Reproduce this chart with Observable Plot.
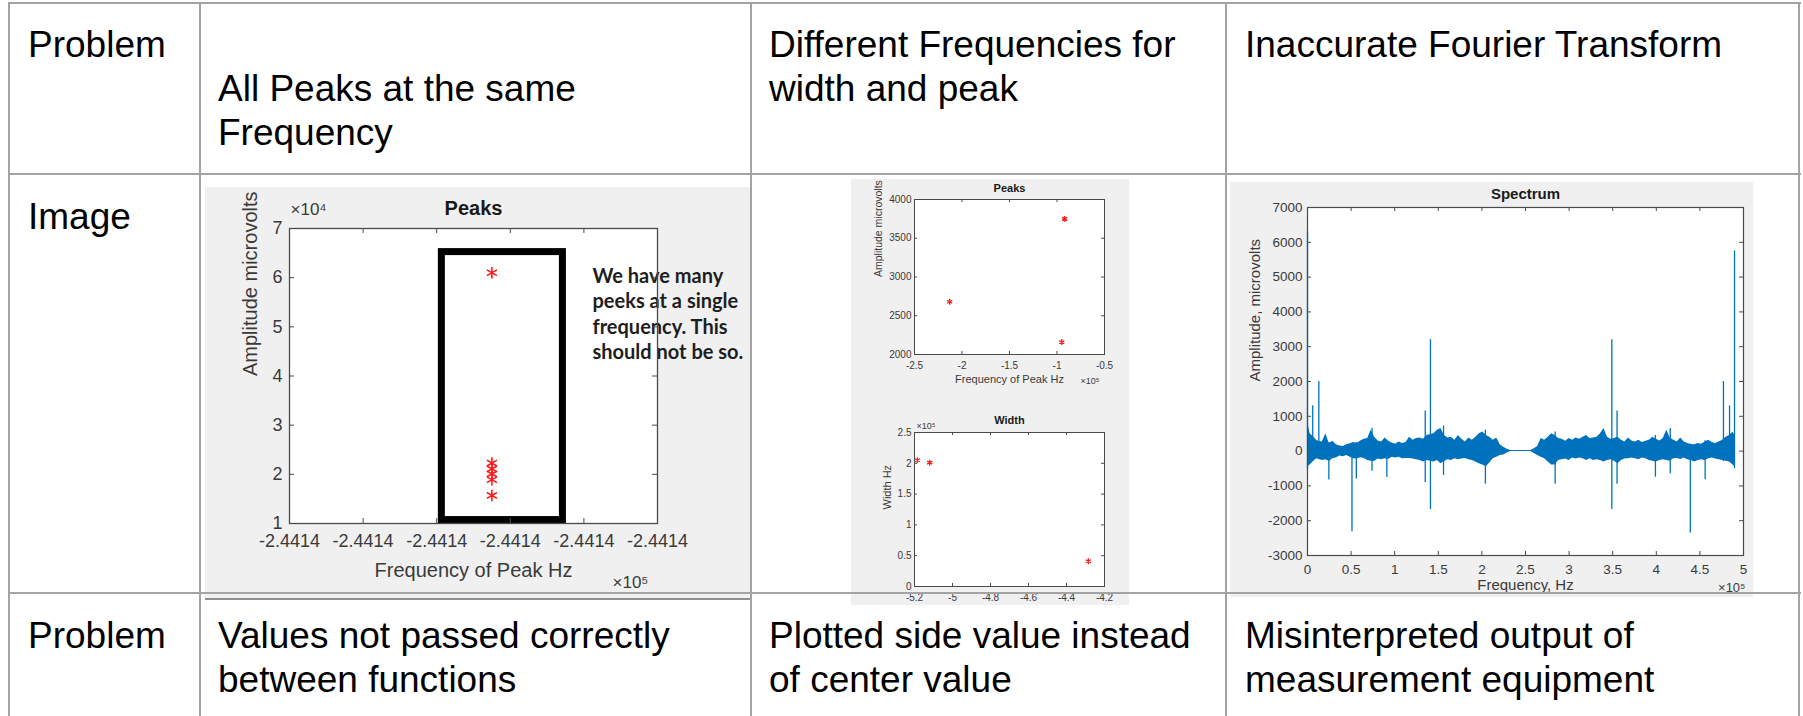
<!DOCTYPE html>
<html>
<head>
<meta charset="utf-8">
<script src="https://cdn.jsdelivr.net/npm/d3@7"></script>
<script src="https://cdn.jsdelivr.net/npm/@observablehq/plot@0.6"></script>
<style>
  html, body { margin: 0; padding: 0; background: #fff; }
  #page { position: relative; width: 1803px; height: 716px; overflow: hidden;
          font-family: "Liberation Sans", Arial, Helvetica, sans-serif; }
  .cell { position: absolute; font-size: 37px; line-height: 44px; color: #000; white-space: pre; }
  .rule { position: absolute; background: #a3a3a3; }
  .fig { position: absolute; background: #f0f0f0; }
  #page svg { position: absolute; display: block; }
</style>
</head>
<body>
<div id="page"></div>
<script>
// ---------------- table text ----------------
const rowLabels = ["Problem", "Image", "Problem"];
const problemTitles = [
  ["", "All Peaks at the same", "Frequency"],
  ["Different Frequencies for", "width and peak"],
  ["Inaccurate Fourier Transform"]
];
const causes = [
  ["Values not passed correctly", "between functions"],
  ["Plotted side value instead", "of center value"],
  ["Misinterpreted output of", "measurement equipment"]
];

// ---------------- "Peaks" (all at one frequency) ----------------
const peakFreqA = [-244140.45, -244140.45, -244140.45, -244140.45, -244140.45, -244140.45];
const peakAmpA = [61000, 22300, 21100, 20100, 18900, 15700];
const freqTicksA = [-244141.0, -244140.8, -244140.6, -244140.4, -244140.2, -244140.0];
const ampTicksA = [10000, 20000, 30000, 40000, 50000, 60000, 70000];
const boxFreqA = [-244140.586, -244140.257];
const boxAmpA = [10700, 65200];
const noteA = "We have many\npeeks at a single\nfrequency. This\nshould not be so.";

// ---------------- "Peaks" / "Width" (mismatched frequencies) ----------------
const peakFreqB = [-213000, -95000, -92000];
const peakAmpB = [2680, 2160, 3750];
const freqTicksB = [-250000, -200000, -150000, -100000, -50000];
const ampTicksB = [2000, 2500, 3000, 3500, 4000];
const widthFreqB = [-518500, -512000, -428500];
const widthB = [205000, 201000, 41000];
const widthFreqTicksB = [-520000, -500000, -480000, -460000, -440000, -420000];
const widthTicksB = [0, 50000, 100000, 150000, 200000, 250000];

// ---------------- "Spectrum" ----------------
// noise band: frequency (x10^5 Hz), upper and lower envelope (microvolts)
const bandFreq = [0.005,0.03,0.08,0.11,0.17,0.21,0.25,0.29,0.33,0.37,0.41,0.45,0.49,0.53,0.57,0.61,0.65,0.69,0.73,0.77,0.81,0.85,0.89,0.93,0.97,1.01,1.05,1.09,1.13,1.17,1.21,1.25,1.29,1.33,1.37,1.45,1.49,1.53,1.57,1.61,1.65,1.69,1.73,1.77,1.81,1.85,1.89,1.93,1.97,2.01,2.05,2.09,2.13,2.17,2.21,2.25,2.29,2.33,2.56,2.60,2.64,2.68,2.72,2.76,2.80,2.84,2.88,2.92,2.96,3.00,3.04,3.08,3.12,3.16,3.20,3.24,3.28,3.32,3.36,3.40,3.44,3.48,3.52,3.56,3.60,3.64,3.68,3.72,3.76,3.80,3.84,3.88,3.92,3.96,4.00,4.04,4.08,4.12,4.16,4.20,4.24,4.28,4.32,4.36,4.40,4.44,4.48,4.52,4.56,4.60,4.64,4.68,4.72,4.76,4.80,4.84,4.88,4.90];
const bandHi = [800,500,380,300,260,500,220,280,180,150,130,180,210,250,220,290,340,360,600,400,290,260,380,280,230,200,260,220,250,400,310,360,380,340,450,500,600,650,450,380,400,310,450,340,260,380,310,400,500,550,450,400,310,380,180,110,55,15,15,70,130,360,310,400,500,450,360,340,280,360,310,380,340,400,450,360,380,400,500,650,400,340,360,400,310,260,380,290,260,310,250,280,310,400,340,290,360,600,380,310,260,380,260,220,190,180,220,200,260,310,250,220,260,310,400,450,550,450];
const bandLo = [-450,-400,-270,-220,-270,-250,-300,-220,-200,-140,-160,-130,-180,-220,-230,-190,-210,-270,-290,-300,-230,-250,-220,-240,-180,-200,-180,-220,-210,-210,-230,-250,-270,-310,-270,-310,-270,-360,-300,-250,-270,-220,-250,-230,-210,-250,-270,-310,-360,-400,-450,-340,-220,-180,-130,-110,-55,-15,-15,-70,-130,-180,-220,-310,-400,-400,-270,-250,-230,-270,-200,-230,-200,-220,-270,-220,-270,-250,-270,-310,-270,-250,-290,-360,-270,-230,-220,-200,-220,-250,-200,-220,-270,-290,-310,-270,-250,-270,-290,-220,-210,-240,-200,-250,-270,-310,-270,-250,-270,-220,-200,-230,-250,-270,-290,-310,-400,-450];
// isolated spikes: frequency (x10^5 Hz), lowest and highest excursion (microvolts)
const spikeFreq = [0.0, 0.06, 0.13, 0.245, 0.51, 0.56, 0.74, 0.91, 1.35, 1.41, 1.56, 2.04, 2.84, 3.49, 3.55, 3.99, 4.16, 4.39, 4.56, 4.77, 4.84, 4.897];
const spikeLo = [-550, -300, -250, -830, -2320, -800, -580, -760, -900, -1680, -700, -950, -950, -1680, -950, -750, -650, -2350, -820, -300, -300, -500];
const spikeHi = [6300, 1300, 2000, 250, 200, 250, 650, 300, 1150, 3200, 720, 600, 550, 3200, 1150, 450, 650, 200, 300, 2000, 1300, 5750];
const specFreqTicks = [0, 50000, 100000, 150000, 200000, 250000, 300000, 350000, 400000, 450000, 500000];
const specAmpTicks = [-3000, -2000, -1000, 0, 1000, 2000, 3000, 4000, 5000, 6000, 7000];

// ---------------- shared styling ----------------
const FONT = '"Liberation Sans", Arial, Helvetica, sans-serif';
const TXT = "#3a3a3a";
const LINE = "#4a4a4a";
const RED = "#ff1a1a";
const BLUE = "#0072BD";
const page = document.getElementById("page");

function box(cls, left, top, width, height, extra) {
  const d = document.createElement("div");
  d.className = cls;
  Object.assign(d.style, {left: left + "px", top: top + "px", width: width + "px", height: height + "px"}, extra || {});
  page.appendChild(d);
  return d;
}

function place(svg, left, top) {
  svg.style.left = left + "px";
  svg.style.top = top + "px";
  page.appendChild(svg);
}

// MATLAB-style ticks drawn inward on all four sides of the axes box
function innerTicks(xTicks, yTicks, iw, ih, len) {
  return [
    Plot.ruleX(xTicks, {x: d => d, insetTop: ih - len, stroke: LINE}),
    Plot.ruleX(xTicks, {x: d => d, insetBottom: ih - len, stroke: LINE}),
    Plot.ruleY(yTicks, {y: d => d, insetRight: iw - len, stroke: LINE}),
    Plot.ruleY(yTicks, {y: d => d, insetLeft: iw - len, stroke: LINE})
  ];
}

const fmt = k => d => String(+(d / k).toFixed(4));
const plain = d => String(d);

// ---------------- figure backgrounds ----------------
box("fig", 205, 187, 545, 411, {borderBottom: "2px solid #8e8e8e"});
box("fig", 851, 179, 278, 426);
box("fig", 1230, 182, 523, 415);

// ---------------- Peaks: all at the same frequency ----------------
{
  const W = 545, H = 413, m = {top: 41, right: 93, bottom: 77, left: 84};
  const iw = W - m.left - m.right, ih = H - m.top - m.bottom;
  const pts = peakAmpA.map((a, i) => ({f: peakFreqA[i], a}));
  const svg = Plot.plot({
    width: W, height: H,
    marginTop: m.top, marginRight: m.right, marginBottom: m.bottom, marginLeft: m.left,
    style: {background: "transparent", fontFamily: FONT, overflow: "hidden"},
    x: {domain: [freqTicksA[0], freqTicksA[freqTicksA.length - 1]]},
    y: {domain: [ampTicksA[0], ampTicksA[ampTicksA.length - 1]]},
    marks: [
      Plot.frame({fill: "white"}),
      Plot.rect([{f1: boxFreqA[0], f2: boxFreqA[1], a1: boxAmpA[0], a2: boxAmpA[1]}],
        {x1: "f1", x2: "f2", y1: "a1", y2: "a2", fill: "none", stroke: "#000", strokeWidth: 7}),
      Plot.dot(pts, {x: "f", y: "a", symbol: "asterisk", r: 5.5, stroke: RED, strokeWidth: 1.6}),
      Plot.text([noteA], {frameAnchor: "top-right", textAnchor: "start", lineAnchor: "top", dx: -65, dy: 36,
        fontFamily: "Lato", fontWeight: 700, fontSize: 20, lineHeight: 1.28, fill: "#1e1e1e"}),
      ...innerTicks(freqTicksA, ampTicksA, iw, ih, 5),
      Plot.frame({stroke: LINE, strokeWidth: 1.3}),
      Plot.axisX({ticks: freqTicksA, tickSize: 0, tickPadding: 11, tickFormat: d => (d / 1e5).toFixed(4),
        fontSize: 18, color: TXT, label: null}),
      Plot.axisY({ticks: ampTicksA, tickSize: 0, tickPadding: 7, tickFormat: fmt(1e4),
        fontSize: 18, color: TXT, label: null}),
      Plot.text(["Peaks"], {frameAnchor: "top", lineAnchor: "middle", dy: -20, fontSize: 20, fontWeight: "bold", fill: "#1a1a1a"}),
      Plot.text(["×10⁴"], {frameAnchor: "top-left", textAnchor: "start", lineAnchor: "middle", dx: 1, dy: -19, fontSize: 17, fill: TXT}),
      Plot.text(["Frequency of Peak Hz"], {frameAnchor: "bottom", lineAnchor: "middle", dy: 47, fontSize: 20, fill: TXT}),
      Plot.text(["×10⁵"], {frameAnchor: "bottom-left", textAnchor: "start", lineAnchor: "middle", dx: 323, dy: 59, fontSize: 17, fill: TXT}),
      Plot.text(["Amplitude microvolts"], {frameAnchor: "left", rotate: -90, lineAnchor: "middle", dx: -39, fontSize: 20, fill: TXT})
    ]
  });
  place(svg, 205, 187);
}

// ---------------- Peaks / Width: different frequencies ----------------
{
  const W = 278, H = 216, m = {top: 20, right: 25, bottom: 41, left: 63};
  const iw = W - m.left - m.right, ih = H - m.top - m.bottom;
  const pts = peakAmpB.map((a, i) => ({f: peakFreqB[i], a}));
  const svg = Plot.plot({
    width: W, height: H,
    marginTop: m.top, marginRight: m.right, marginBottom: m.bottom, marginLeft: m.left,
    style: {background: "transparent", fontFamily: FONT, overflow: "hidden"},
    x: {domain: [freqTicksB[0], freqTicksB[freqTicksB.length - 1]]},
    y: {domain: [ampTicksB[0], ampTicksB[ampTicksB.length - 1]]},
    marks: [
      Plot.frame({fill: "white"}),
      Plot.dot(pts, {x: "f", y: "a", symbol: "asterisk", r: 2.8, stroke: RED, strokeWidth: 1.3}),
      ...innerTicks(freqTicksB, ampTicksB, iw, ih, 3),
      Plot.frame({stroke: LINE, strokeWidth: 1}),
      Plot.axisX({ticks: freqTicksB, tickSize: 0, tickPadding: 7, tickFormat: fmt(1e5), fontSize: 10, color: TXT, label: null}),
      Plot.axisY({ticks: ampTicksB, tickSize: 0, tickPadding: 3, tickFormat: plain, fontSize: 10, color: TXT, label: null}),
      Plot.text(["Peaks"], {frameAnchor: "top", lineAnchor: "middle", dy: -11, fontSize: 11, fontWeight: "bold", fill: "#1a1a1a"}),
      Plot.text(["Frequency of Peak Hz"], {frameAnchor: "bottom", lineAnchor: "middle", dy: 25, fontSize: 11, fill: TXT}),
      Plot.text(["×10⁵"], {frameAnchor: "bottom-right", textAnchor: "start", lineAnchor: "middle", dx: -24, dy: 27, fontSize: 9, fill: TXT}),
      Plot.text(["Amplitude microvolts"], {frameAnchor: "left", rotate: -90, lineAnchor: "middle", dx: -36, fontSize: 10.5, fill: TXT})
    ]
  });
  place(svg, 851, 179);
}
{
  const W = 278, H = 205, m = {top: 32, right: 25, bottom: 19, left: 63};
  const iw = W - m.left - m.right, ih = H - m.top - m.bottom;
  const pts = widthB.map((w, i) => ({f: widthFreqB[i], w}));
  const svg = Plot.plot({
    width: W, height: H,
    marginTop: m.top, marginRight: m.right, marginBottom: m.bottom, marginLeft: m.left,
    style: {background: "transparent", fontFamily: FONT, overflow: "hidden"},
    x: {domain: [widthFreqTicksB[0], widthFreqTicksB[widthFreqTicksB.length - 1]]},
    y: {domain: [widthTicksB[0], widthTicksB[widthTicksB.length - 1]]},
    marks: [
      Plot.frame({fill: "white"}),
      Plot.dot(pts, {x: "f", y: "w", symbol: "asterisk", r: 2.8, stroke: RED, strokeWidth: 1.3}),
      ...innerTicks(widthFreqTicksB, widthTicksB, iw, ih, 3),
      Plot.frame({stroke: LINE, strokeWidth: 1}),
      Plot.axisX({ticks: widthFreqTicksB, tickSize: 0, tickPadding: 7, tickFormat: fmt(1e5), fontSize: 10, color: TXT, label: null}),
      Plot.axisY({ticks: widthTicksB, tickSize: 0, tickPadding: 3, tickFormat: fmt(1e5), fontSize: 10, color: TXT, label: null}),
      Plot.text(["Width"], {frameAnchor: "top", lineAnchor: "middle", dy: -12, fontSize: 11, fontWeight: "bold", fill: "#1a1a1a"}),
      Plot.text(["×10⁵"], {frameAnchor: "top-left", textAnchor: "start", lineAnchor: "middle", dx: 2, dy: -6, fontSize: 9, fill: TXT}),
      Plot.text(["Width Hz"], {frameAnchor: "left", rotate: -90, lineAnchor: "middle", dx: -27, fontSize: 11, fill: TXT})
    ]
  });
  place(svg, 851, 400);
}

// ---------------- Spectrum ----------------
{
  const W = 523, H = 414, m = {top: 25, right: 10, bottom: 41, left: 77};
  const iw = W - m.left - m.right, ih = H - m.top - m.bottom;
  const band = bandFreq.map((f, i) => ({f: f * 1e5, hi: bandHi[i], lo: bandLo[i]}));
  const spikes = spikeFreq.map((f, i) => ({f: f * 1e5, lo: spikeLo[i], hi: spikeHi[i]}));
  const svg = Plot.plot({
    width: W, height: H,
    marginTop: m.top, marginRight: m.right, marginBottom: m.bottom, marginLeft: m.left,
    style: {background: "transparent", fontFamily: FONT, overflow: "hidden"},
    x: {domain: [specFreqTicks[0], specFreqTicks[specFreqTicks.length - 1]]},
    y: {domain: [specAmpTicks[0], specAmpTicks[specAmpTicks.length - 1]]},
    marks: [
      Plot.frame({fill: "white"}),
      Plot.areaY(band, {x: "f", y1: "lo", y2: "hi", fill: BLUE, curve: "linear"}),
      Plot.ruleX(spikes, {x: "f", y1: "lo", y2: "hi", stroke: BLUE, strokeWidth: 1.3}),
      ...innerTicks(specFreqTicks, specAmpTicks, iw, ih, 4),
      Plot.frame({stroke: LINE, strokeWidth: 1.2}),
      Plot.axisX({ticks: specFreqTicks, tickSize: 0, tickPadding: 9, tickFormat: fmt(1e5), fontSize: 13.5, color: TXT, label: null}),
      Plot.axisY({ticks: specAmpTicks, tickSize: 0, tickPadding: 5, tickFormat: plain, fontSize: 13.5, color: TXT, label: null}),
      Plot.text(["Spectrum"], {frameAnchor: "top", lineAnchor: "middle", dy: -13, fontSize: 15, fontWeight: "bold", fill: "#1a1a1a"}),
      Plot.text(["Frequency, Hz"], {frameAnchor: "bottom", lineAnchor: "middle", dy: 30, fontSize: 15, fill: TXT}),
      Plot.text(["×10⁵"], {frameAnchor: "bottom-right", textAnchor: "end", lineAnchor: "middle", dx: 2, dy: 32, fontSize: 13, fill: TXT}),
      Plot.text(["Amplitude, microvolts"], {frameAnchor: "left", rotate: -90, lineAnchor: "middle", dx: -52, fontSize: 15, fill: TXT})
    ]
  });
  place(svg, 1230, 182);
}

// ---------------- table grid (drawn over the figures) ----------------
const colLines = [9, 200, 751, 1226, 1799];
const rowLines = [3, 174, 593];
colLines.forEach(x => box("rule", x - 1, 2, 2, 720));
rowLines.forEach(y => box("rule", 8, y - 1, 1793, 2));

// ---------------- table text ----------------
const textLeft = [28, 218, 769, 1245];
const rowBaselines = [58, 230, 649];
function cell(x, baseline, lines) {
  const d = document.createElement("div");
  d.className = "cell";
  d.style.left = x + "px";
  d.style.top = (baseline - 35) + "px";
  d.textContent = lines.join("\n");
  page.appendChild(d);
}
rowLabels.forEach((label, r) => cell(textLeft[0], rowBaselines[r], [label]));
problemTitles.forEach((lines, c) => cell(textLeft[c + 1], rowBaselines[0], lines));
causes.forEach((lines, c) => cell(textLeft[c + 1], rowBaselines[2], lines));
</script>
</body>
</html>
